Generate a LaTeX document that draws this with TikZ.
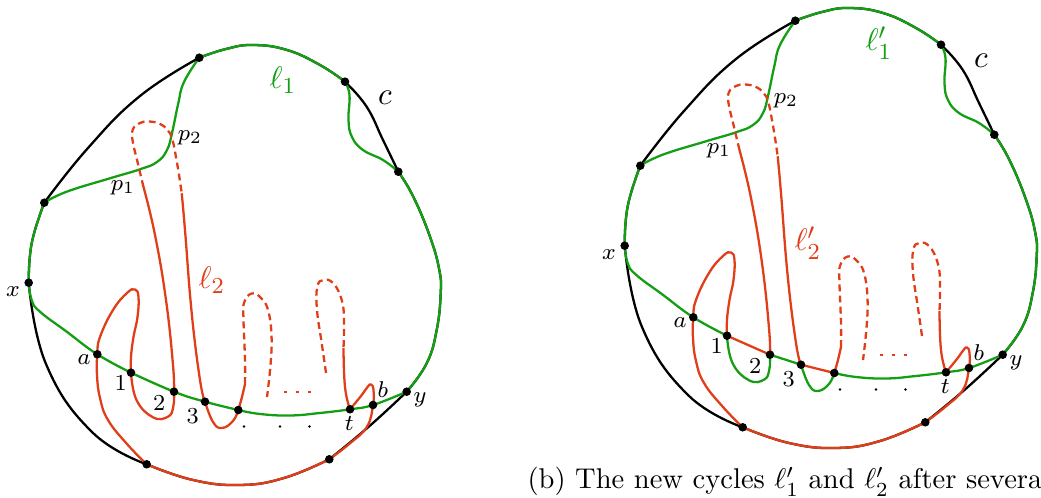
\documentclass[tikz,border=0pt]{standalone}
\usepackage{amsmath, amssymb}
\usepackage{tikz}
\definecolor{lonegreen}{RGB}{20,158,20}
\definecolor{ltwored}{RGB}{224,62,24}

% pieces of the curve c between its marked points
\newcommand{\cTop}{plot[smooth] coordinates {(top) (226,49) (253,45) (287,50) (320,65) (cr1)}}
\newcommand{\cRup}{plot[smooth] coordinates {(cr1) (366.5,106.5) (383,140) (cr2)}}
\newcommand{\cRdown}{plot[smooth] coordinates {(cr2) (413.3,196.7) (430,236.7) (439.3,270) (440.7,293.3) (436.7,330) (426.7,363.3) (y)}}
\newcommand{\cBR}{plot[smooth] coordinates {(y) (369,426.5) (br)}}
\newcommand{\cBot}{plot[smooth] coordinates {(br) (284,478) (240,485) (193,480) (bl)}}
\newcommand{\cBL}{plot[smooth] coordinates {(bl) (92,432) (46,364) (x)}}
\newcommand{\cLeft}{plot[smooth] coordinates {(x) (31.7,243.3) (cl)}}
\newcommand{\cTL}{plot[smooth] coordinates {(cl) (88,148) (140,96) (top)}}
% the two small bends of l2 (or l1 after the switch)
\newcommand{\redUa}{plot[smooth] coordinates {(n1) (136.5,400) (153,417.3) (168,416.7) (173.3,406.7) (n2)}}
\newcommand{\redUb}{plot[smooth] coordinates {(n3) (213,422) (222,428) (233,421) (n4)}}

% one picture: #1 = the part that changes, #2, #3 = names of the cycles
\newcommand{\cyclefig}[3]{%
  \coordinate (top) at (199.3,57.7);
  \coordinate (cr1) at (345,81.7);
  \coordinate (cr2) at (398.3,171.7);
  \coordinate (y) at (406.7,391.7);
  \coordinate (br) at (329.3,459.3);
  \coordinate (bl) at (146.7,464.3);
  \coordinate (x) at (28.7,282.7);
  \coordinate (cl) at (44.3,202.7);
  \coordinate (a) at (97.3,354.3);
  \coordinate (n1) at (131,372.7);
  \coordinate (n2) at (174,391.7);
  \coordinate (n3) at (205,401.7);
  \coordinate (n4) at (238.3,410);
  \coordinate (t) at (350,409.3);
  \coordinate (b) at (373,405);
  % c
  \draw[cline] \cTop \cRup \cRdown \cBR \cBot \cBL \cLeft \cTL;
  % l1
  \draw[lone] \cTop \cRdown \cLeft;
  \draw[lone] plot[smooth] coordinates {(cl) (66.7,191.7) (110,178.3) (140,169.3) (157,162) (167,150) (172,133) (178.3,103.3) (184,82) (top)};
  \draw[lone] plot[smooth] coordinates {(cr1) (349.5,95) (348.5,120) (352,137) (363,150) (383,160) (cr2)};
  \draw[lone] plot[smooth] coordinates {(y) (b) (t) (320,413) (290,415.5) (260,414) (n4)};
  \draw[lone] plot[smooth] coordinates {(n1) (a) (66.7,331.7) (40,311.7) (31.7,300) (x)};
  % l2
  \draw[ltwo] \cBot;
  \draw[ltwo] plot[smooth] coordinates {(bl) (127,444) (108,420) (100,398) (97,375) (a) (100,337) (113,310) (127,293) (135,289.5) (138.5,297) (137.5,317) (133.5,337) (131,357) (n1)};
  \draw[ltwo] plot[smooth] coordinates {(n2) (173,365) (166,300) (155,235) (143.5,187)};
  \draw[ltwodash] plot[smooth] coordinates {(143.5,187) (138,164) (132.5,140) (133,129) (140,123) (149,121.5) (160,124) (168,130.5) (172.5,140) (176.5,160) (179.5,178) (181.7,193.3)};
  \draw[ltwo] plot[smooth] coordinates {(181.7,193.3) (185,230) (191.7,313) (200,380) (n3)};
  \draw[ltwo] plot[smooth] coordinates {(n4) (242,397) (245,384)};
  \draw[ltwodash] plot[smooth] coordinates {(245,384) (245,360) (243.5,320) (244,303) (251.7,293.5) (261,298) (268,310) (271.5,335) (270.5,365) (267,397)};
  \draw[ltwo, dash pattern=on 1.2pt off 3pt] (284,392) -- (313,392);
  \draw[ltwodash] plot[smooth] coordinates {(326,373) (321.7,343) (317,310) (317.3,287) (323.3,280) (333.3,283.3) (341.7,300) (344,320) (343.5,348)};
  \draw[ltwo] plot[smooth] coordinates {(343.5,348) (345,387) (t)};
  \draw[ltwo] plot[smooth] coordinates {(t) (361,396) (367.5,387) (371,384.5) (373.5,390) (b) (367,426.7) (350,443.3) (br)};
  #1
  % marked points
  \foreach \p in {top,cr1,cr2,y,br,bl,x,cl,a,n1,n2,n3,n4,t,b}
    \fill (\p) circle (1.5pt);
  \foreach \q in {244,280,309.5}
    \fill (\q,426.5) circle (0.5pt);
  \node[biglab, text=lonegreen] (lonelab) at (283,80) {$#2$};
  \node[biglab] (clab) at (385,98) {$c$};
  \node[lab] (plab2) at (190,138) {$p_2$};
  \node[lab] (plab1) at (123,188) {$p_1$};
  \node[biglab, text=ltwored] (ltwolab) at (212,280) {$#3$};
  \node[lab] (xlab) at (13,292) {$x$};
  \node[lab] (alab) at (84,360) {$a$};
  \node[lab] (onelab) at (120.7,383) {$1$};
  \node[lab] (twolab) at (159.3,402.7) {$2$};
  \node[lab] (threelab) at (192.7,416) {$3$};
  \node[lab] (tlab) at (349.3,423.3) {$t$};
  \node[lab] (blab) at (382.7,389.3) {$b$};
  \node[lab] (ylab) at (420,400) {$y$};
}

\begin{document}
\begin{tikzpicture}[x=0.35pt, y=-0.35pt, tension=0.75,
    cline/.style={draw=black, line width=0.8pt},
    lone/.style={draw=lonegreen, line width=0.8pt},
    ltwo/.style={draw=ltwored, line width=0.8pt},
    ltwodash/.style={ltwo, dash pattern=on 2.4pt off 1.5pt},
    lab/.style={font=\footnotesize, inner sep=0pt},
    biglab/.style={font=\fontsize{10.95}{13}\selectfont, inner sep=0pt},
  ]
  \useasboundingbox (0,0) rectangle (1041,498);

  % (a) before
  \begin{scope}[name prefix=L-]
    \cyclefig{%
      \draw[lone] plot[smooth] coordinates {(n4) (n3) (n2) (n1)};
      \draw[ltwo] \redUa;
      \draw[ltwo] \redUb;
    }{\ell_1}{\ell_2}
  \end{scope}

  % (b) after the switches
  \begin{scope}[shift={(596,-37)}, name prefix=R-]
    \cyclefig{%
      \draw[lone] \redUa \redUb (n3) -- (n2);
      \draw[ltwo] (n1) -- (n2) (n3) -- (n4);
    }{\ell'_1}{\ell'_2}
  \end{scope}

  \node[anchor=base west, inner sep=0pt] (capb) at (527,489)
    {(b) The new cycles $\ell'_1$ and $\ell'_2$ after severa};
\end{tikzpicture}
\end{document}
